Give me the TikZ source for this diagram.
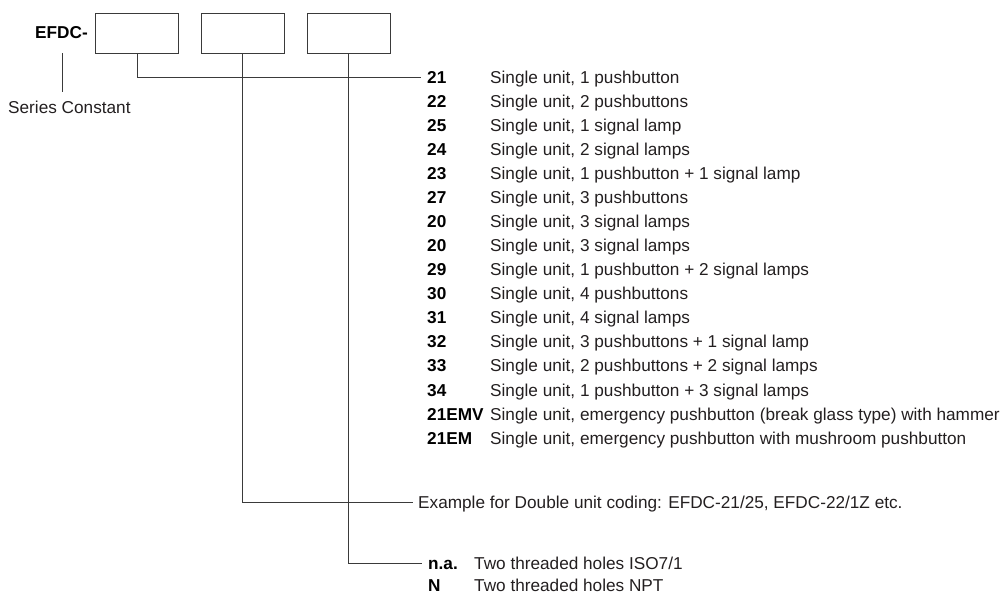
\documentclass[tikz,border=0pt]{standalone}
\usepackage{fontspec}
\setmainfont{Liberation Sans}
\usepackage{tikz}
\usetikzlibrary{positioning}
\definecolor{efdcink}{HTML}{231F20}
\definecolor{efdcline}{HTML}{3A3A3A}

\begin{document}
\begin{tikzpicture}[x=1pt, y=-1pt, font=\fontsize{17.2}{20}\selectfont\color{efdcink},
  slot/.style={draw=efdcline, line width=0.8pt, minimum width=83pt, minimum height=40pt, inner sep=0pt},
  txt/.style={anchor=west, inner ysep=0pt, inner xsep=6pt, text height=12.3pt, text depth=0pt},
  code/.style={txt, font=\fontsize{17.2}{20}\selectfont\bfseries},
  lead/.style={draw=efdcline, line width=0.8pt}]
\useasboundingbox (0,0) rectangle (1006,595);
% ===== order code =====
\node[code, inner xsep=2pt] (efdc) at (33,32) {EFDC-};
\node[slot] (b1) at (137,33) {};
\node[slot] (b2) at (242.5,33) {};
\node[slot] (b3) at (348.5,33) {};
\node[txt, inner xsep=2pt] (series) at (6,107) {Series Constant};
\coordinate (sTop) at (62,53);
\coordinate (sBot) at (62,92);
\draw[lead] (sTop) -- (sBot);
% ===== single unit codes =====
\foreach \cd/\ds [count=\i from 0] in {21/{Single unit, 1 pushbutton},
    22/{Single unit, 2 pushbuttons}, 25/{Single unit, 1 signal lamp},
    24/{Single unit, 2 signal lamps}, 23/{Single unit, 1 pushbutton + 1 signal lamp},
    27/{Single unit, 3 pushbuttons}, 20/{Single unit, 3 signal lamps},
    20/{Single unit, 3 signal lamps}, 29/{Single unit, 1 pushbutton + 2 signal lamps},
    30/{Single unit, 4 pushbuttons}, 31/{Single unit, 4 signal lamps},
    32/{Single unit, 3 pushbuttons + 1 signal lamp}, 33/{Single unit, 2 pushbuttons + 2 signal lamps},
    34/{Single unit, 1 pushbutton + 3 signal lamps},
    21EMV/{Single unit, emergency pushbutton (break glass type) with hammer},
    21EM/{Single unit, emergency pushbutton with mushroom pushbutton}}{
  \node[code] (c\i) at (421,{77+24.07*\i}) {\cd};
  \node[txt] (d\i) at (484,{77+24.07*\i}) {\ds};
}
\draw[lead] (b1.south) |- (c0.west);
% ===== double unit =====
\node[txt, inner xsep=5pt] (ex) at (413,502) {Example for Double unit coding: EFDC-21/25, EFDC-22/1Z etc.};
\draw[lead] (b2.south) |- (ex.west);
% ===== holes =====
\node[code] (na) at (422,563) {n.a.};
\node[txt] (naD) at (468,563) {Two threaded holes ISO7/1};
\node[code] (npt) at (422,585.5) {N};
\node[txt] (nptD) at (468,585.5) {Two threaded holes NPT};
\draw[lead] (b3.south) |- (na.west);
\end{tikzpicture}
\end{document}
